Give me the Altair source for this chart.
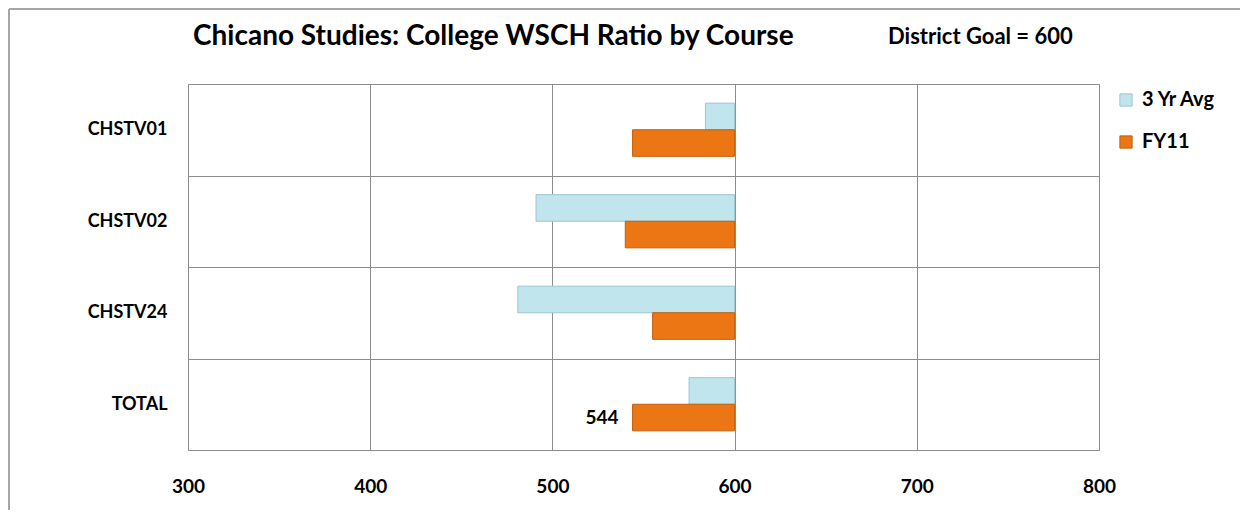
import altair as alt
import pandas as pd

courses = ["CHSTV01", "CHSTV02", "CHSTV24", "TOTAL"]
avg3 = [584, 491, 481, 575]
fy11 = [544, 540, 555, 544]
series = ["3 Yr Avg", "FY11"]
colors = ["#C0E5ED", "#EC7614"]
GOAL = 600
x_ticks = [300, 400, 500, 600, 700, 800]
label_course = "TOTAL"
label_series = "FY11"
TITLE = "Chicano Studies: College WSCH Ratio by Course"

rows = []
for c, a, f in zip(courses, avg3, fy11):
    rows.append({"course": c, "series": series[0], "value": a, "goal": GOAL})
    rows.append({"course": c, "series": series[1], "value": f, "goal": GOAL})
df = pd.DataFrame(rows)

FONT = "Lato, Open Sans, sans-serif"
GRID = "#8c8c8c"

base = alt.Chart(df)

bars = base.mark_bar(strokeWidth=1).encode(
    y=alt.Y("course:N", sort=courses, title=None,
            scale=alt.Scale(paddingInner=0, paddingOuter=0),
            axis=alt.Axis(tickBand="extent", grid=True, gridColor=GRID, gridWidth=1,
                          ticks=False, domain=False, labelFont=FONT, labelFontSize=18,
                          labelFontWeight="bold", labelColor="#000", labelPadding=21)),
    yOffset=alt.YOffset("series:N", sort=series,
                        scale=alt.Scale(paddingInner=0, paddingOuter=0.72)),
    x=alt.X("value:Q", title=None,
            scale=alt.Scale(domain=[300, 800], nice=False, zero=False),
            axis=alt.Axis(values=x_ticks, grid=True, gridColor=GRID, gridWidth=1,
                          ticks=False, domain=False, labelFont=FONT, labelFontSize=19,
                          labelFontWeight="bold", labelColor="#000", labelPadding=27,
                          labelFlush=False)),
    x2="goal:Q",
    color=alt.Color("series:N", sort=series,
                    scale=alt.Scale(domain=series, range=colors),
                    legend=alt.Legend(title=None, orient="none", legendX=928, legendY=6,
                                      symbolType="square", symbolSize=150,
                                      symbolStrokeWidth=1, labelFont=FONT,
                                      labelFontSize=20, labelFontWeight="bold",
                                      labelColor="#000", rowPadding=22, labelOffset=6)),
    stroke=alt.Stroke("series:N", sort=series,
                      scale=alt.Scale(domain=series, range=["#9CC6D0", "#C25E0A"]),
                      legend=None),
)

lab_df = df[(df.course == label_course) & (df.series == label_series)]
labels = alt.Chart(lab_df).mark_text(align="right", baseline="middle", dx=-14,
                                     font=FONT, fontSize=19, fontWeight="bold",
                                     color="#000").encode(
    y=alt.Y("course:N", sort=courses),
    yOffset=alt.YOffset("series:N", sort=series),
    x="value:Q",
    text=alt.Text("value:Q"),
)

text_df = pd.DataFrame({"t": [TITLE, f"District Goal = {GOAL}"],
                        "kind": ["title", "goal"]})
title_text = alt.Chart(text_df[text_df.kind == "title"]).mark_text(
    align="left", baseline="middle", font=FONT, fontSize=28, fontWeight="bold",
    color="#000").encode(text="t:N", x=alt.value(5), y=alt.value(-47))
goal_text = alt.Chart(text_df[text_df.kind == "goal"]).mark_text(
    align="left", baseline="middle", font=FONT, fontSize=22, fontWeight="bold",
    color="#000").encode(text="t:N", x=alt.value(700), y=alt.value(-47))

frame_top = alt.Chart(text_df.head(1)).mark_rule(color="#a6a6a6", strokeWidth=2).encode(
    x=alt.value(-179), x2=alt.value(1060), y=alt.value(-75))
frame_left = alt.Chart(text_df.head(1)).mark_rule(color="#a6a6a6", strokeWidth=2).encode(
    x=alt.value(-179), y=alt.value(-75), y2=alt.value(430))

chart = alt.layer(frame_top, frame_left, bars, labels, title_text, goal_text).properties(
    width=911, height=366,
    autosize=alt.AutoSizeParams(type="none"),
    padding={"left": 180, "top": 76, "right": 141, "bottom": 60},
).configure_view(stroke=GRID, strokeWidth=1).configure(background="white")

chart.save("out.html", embed_options={"renderer": "svg", "actions": False})
